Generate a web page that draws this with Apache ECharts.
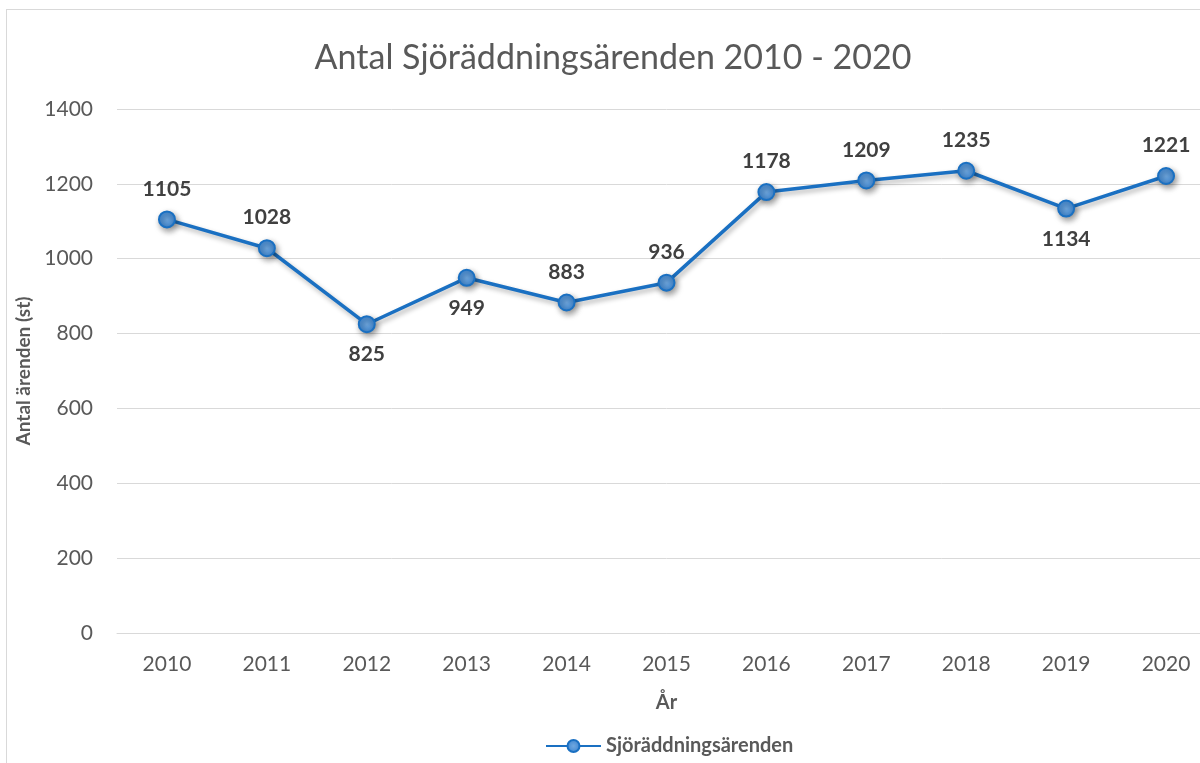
<!DOCTYPE html>
<html>
<head>
<meta charset="utf-8">
<script src="https://cdn.jsdelivr.net/npm/echarts@6/dist/echarts.min.js"></script>
<style>
  html, body { margin: 0; padding: 0; overflow: hidden; background: #ffffff; }
  #frame {
    position: absolute; left: 6px; top: 9px; width: 1300px; height: 900px;
    border-left: 1px solid #d9d9d9; border-top: 1px solid #d9d9d9;
  }
  #chart { position: absolute; left: 0; top: 0; width: 1230px; height: 763px; }
</style>
</head>
<body>
<div id="frame"></div>
<div id="chart"></div>
<script>
const years = ['2010', '2011', '2012', '2013', '2014', '2015', '2016', '2017', '2018', '2019', '2020']
const cases = [1105, 1028, 825, 949, 883, 936, 1178, 1209, 1235, 1134, 1221]
// labels under the point for these years
const belowYears = ['2012', '2013', '2019']

const fontFamily = 'Lato, "Open Sans", sans-serif'

const seriesData = cases.map((v, i) => ({
  value: v,
  label: { position: belowYears.includes(years[i]) ? 'bottom' : 'top' }
}))

const myChart = echarts.init(document.getElementById('chart'))

const option = {
  animation: false,
  title: {
    text: 'Antal Sjöräddningsärenden 2010 - 2020',
    left: 608,
    top: 36,
    textAlign: 'center',
    textStyle: { fontFamily, fontSize: 34, fontWeight: 'normal', color: '#595959' }
  },
  legend: {
    left: 540,
    top: 731,
    itemWidth: 55,
    itemHeight: 15,
    itemGap: 10,
    textStyle: { fontFamily, fontSize: 20, fontWeight: 'bold', color: '#595959' },
    data: ['Sjöräddningsärenden']
  },
  grid: { left: 117, right: 14, top: 109, bottom: 130 },
  xAxis: {
    type: 'category',
    data: years,
    name: 'År',
    nameLocation: 'middle',
    nameGap: 60,
    nameTextStyle: { fontFamily, fontSize: 20, fontWeight: 'bold', color: '#595959' },
    axisLine: { show: true, lineStyle: { color: '#d9d9d9', width: 1 } },
    axisTick: { show: false },
    axisLabel: { fontFamily, fontSize: 21, color: '#595959', margin: 21 }
  },
  yAxis: {
    type: 'value',
    min: 0,
    max: 1400,
    interval: 200,
    name: 'Antal ärenden (st)',
    nameLocation: 'middle',
    nameGap: 82,
    nameTextStyle: { fontFamily, fontSize: 19, fontWeight: 'bold', color: '#595959' },
    axisLine: { show: false },
    axisTick: { show: false },
    axisLabel: { fontFamily, fontSize: 21, color: '#595959', margin: 24, formatter: v => String(v) },
    splitLine: { lineStyle: { color: '#d9d9d9', width: 1 } }
  },
  series: [
    {
      name: 'Sjöräddningsärenden',
      type: 'line',
      data: seriesData,
      symbol: 'circle',
      symbolSize: 16,
      lineStyle: {
        color: '#1a70c2',
        width: 3.5,
        shadowColor: 'rgba(0, 0, 0, 0.3)',
        shadowBlur: 5,
        shadowOffsetX: 2,
        shadowOffsetY: 3
      },
      itemStyle: {
        color: new echarts.graphic.RadialGradient(0.5, 0.5, 0.5, [
          { offset: 0, color: '#6fa8e0' },
          { offset: 1, color: '#3f86d0' }
        ]),
        borderColor: '#1a70c2',
        borderWidth: 2,
        shadowColor: 'rgba(0, 0, 0, 0.4)',
        shadowBlur: 6,
        shadowOffsetX: 2,
        shadowOffsetY: 3
      },
      label: {
        show: true,
        distance: 11,
        fontFamily,
        fontSize: 21,
        fontWeight: 'bold',
        color: '#404040'
      }
    }
  ]
}

option && myChart.setOption(option)
</script>
</body>
</html>
